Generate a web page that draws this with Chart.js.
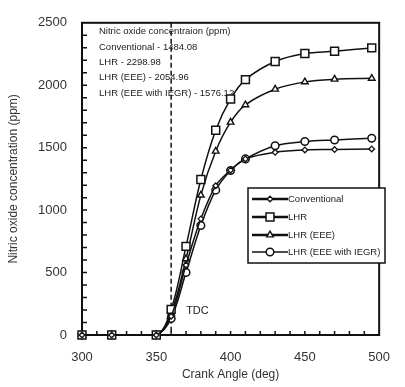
<!DOCTYPE html>
<html>
<head>
<meta charset="utf-8">
<script src="https://cdn.jsdelivr.net/npm/chart.js@4/dist/chart.umd.min.js"></script>
<style>
  html, body { margin: 0; padding: 0; background: #fff; }
  #wrap { width: 405px; height: 387px; position: relative; }
</style>
</head>
<body>
<div id="wrap"><canvas id="noxChart" width="405" height="387"></canvas></div>
<script>
// crank angle (deg) where each point was taken
const crankAngles = [300, 320, 350, 360, 370, 380, 390, 400, 410, 430, 450, 470, 495];

// nitric oxide concentration (ppm)
const conventional = [0, 0, 0, 150, 560, 930, 1195, 1320, 1410, 1463, 1482, 1485, 1490];
const lhr = [0, 0, 0, 205, 710, 1245, 1640, 1890, 2045, 2190, 2254, 2272, 2299];
const lhrEee = [0, 0, 0, 175, 610, 1120, 1472, 1704, 1843, 1968, 2027, 2048, 2055];
const lhrIegr = [0, 0, 0, 132, 500, 877, 1160, 1317, 1410, 1516, 1549, 1562, 1576];

const seriesNames = ["Conventional", "LHR", "LHR (EEE)", "LHR (EEE with IEGR)"];

const noteLines = [
  "Nitric oxide concentraion (ppm)",
  "Conventional - 1484.08",
  "LHR - 2298.98",
  "LHR (EEE) - 2054.96",
  "LHR (EEE with IEGR) - 1576.12"
];

const xTicks = [300, 350, 400, 450, 500];
const yTicks = [0, 500, 1000, 1500, 2000, 2500];
const tdcAngle = 360;

const FONT = "'Liberation Sans', Arial, sans-serif";

function toPoints(values) {
  return values.map((v, i) => ({ x: crankAngles[i], y: v }));
}

function makeSet(label, values, style, radius, lw) {
  return {
    label: label,
    data: toPoints(values),
    borderColor: "#111",
    backgroundColor: "#fff",
    borderWidth: 1.5,
    pointStyle: style,
    pointRadius: radius,
    pointBorderWidth: lw,
    pointBackgroundColor: "#fff",
    pointBorderColor: "#111",
    tension: 0.35,
    clip: false,
    fill: false
  };
}

const datasets = [
  makeSet(seriesNames[0], conventional, "rectRot", 2.8, 1.3),
  makeSet(seriesNames[1], lhr, "rect", 5.6, 1.5),
  makeSet(seriesNames[2], lhrEee, "triangle", 3.8, 1.4),
  makeSet(seriesNames[3], lhrIegr, "circle", 3.8, 1.5)
];

// frame, inner ticks, TDC line, note, and the boxed legend
const decorations = {
  id: "decorations",
  beforeDatasetsDraw(chart) {
    const ctx = chart.ctx;
    const a = chart.chartArea;
    const xs = chart.scales.x;
    const ys = chart.scales.y;
    ctx.save();

    // note text (behind the dashed line)
    ctx.fillStyle = "#222";
    ctx.font = "9.5px " + FONT;
    ctx.textBaseline = "middle";
    ctx.textAlign = "left";
    const noteY = [31, 47, 62, 77, 93];
    noteLines.forEach((t, i) => ctx.fillText(t, a.left + 17, noteY[i]));

    // TDC dashed line
    const tx = xs.getPixelForValue(tdcAngle);
    ctx.strokeStyle = "#111";
    ctx.lineWidth = 1.5;
    ctx.setLineDash([5, 3]);
    ctx.beginPath();
    ctx.moveTo(tx, a.top);
    ctx.lineTo(tx, a.bottom);
    ctx.stroke();
    ctx.setLineDash([]);

    ctx.font = "11px " + FONT;
    ctx.fillStyle = "#222";
    ctx.fillText("TDC", tx + 15, ys.getPixelForValue(195));

    // inner ticks
    ctx.lineWidth = 1.5;
    ctx.strokeStyle = "#111";
    ctx.beginPath();
    for (let v = 100; v < 2500; v += 100) {
      const y = ys.getPixelForValue(v);
      ctx.moveTo(a.left, y);
      ctx.lineTo(a.left + 5, y);
    }
    for (let v = 310; v < 500; v += 10) {
      const x = xs.getPixelForValue(v);
      ctx.moveTo(x, a.bottom);
      ctx.lineTo(x, a.bottom - 4);
    }
    ctx.stroke();

    // frame
    ctx.lineWidth = 2;
    ctx.strokeRect(a.left, a.top, a.right - a.left, a.bottom - a.top);
    ctx.restore();
  },
  afterDatasetsDraw(chart) {
    const ctx = chart.ctx;
    ctx.save();
    ctx.textBaseline = "middle";
    ctx.textAlign = "left";

    // legend box
    const lx = 248, ly = 188, lw = 137, lh = 75;
    ctx.fillStyle = "#fff";
    ctx.fillRect(lx, ly, lw, lh);
    ctx.strokeStyle = "#111";
    ctx.lineWidth = 1.5;
    ctx.strokeRect(lx, ly, lw, lh);
    const rowY = [199, 217, 235, 252];
    chart.data.datasets.forEach((ds, i) => {
      const y = rowY[i];
      ctx.strokeStyle = "#111";
      ctx.lineWidth = i === 3 ? 1.5 : 2.5;
      ctx.beginPath();
      ctx.moveTo(lx + 4, y);
      ctx.lineTo(lx + 40, y);
      ctx.stroke();
      ctx.lineWidth = ds.pointBorderWidth;
      ctx.fillStyle = "#fff";
      Chart.helpers.drawPoint(ctx, {
        pointStyle: ds.pointStyle,
        radius: ds.pointRadius,
        borderWidth: ds.pointBorderWidth,
        rotation: 0
      }, lx + 22, y);
      ctx.fillStyle = "#222";
      ctx.font = "9.5px " + FONT;
      ctx.fillText(ds.label, lx + 40, y);
    });

    ctx.restore();
  }
};

new Chart(document.getElementById("noxChart").getContext("2d"), {
  type: "line",
  data: { datasets: datasets },
  options: {
    responsive: false,
    animation: false,
    layout: { padding: { top: 12, right: 13, left: 0, bottom: 0 } },
    plugins: {
      legend: { display: false },
      tooltip: { enabled: false }
    },
    scales: {
      x: {
        type: "linear",
        min: 300,
        max: 500,
        grid: { display: false, drawTicks: false },
        border: { display: false },
        afterFit: s => { s.height = 52; },
        afterBuildTicks: s => { s.ticks = xTicks.map(v => ({ value: v })); },
        ticks: { color: "#333", font: { family: FONT, size: 13 }, padding: 15, callback: v => String(v) },
        title: {
          display: true,
          text: "Crank Angle (deg)",
          color: "#333",
          font: { family: FONT, size: 12 },
          padding: { top: 0, bottom: 5 }
        }
      },
      y: {
        min: 0,
        max: 2500,
        grid: { display: false, drawTicks: false },
        border: { display: false },
        afterFit: s => { s.width = 82; },
        afterBuildTicks: s => { s.ticks = yTicks.map(v => ({ value: v })); },
        ticks: { color: "#333", font: { family: FONT, size: 13 }, padding: 15, callback: v => String(v) },
        title: {
          display: true,
          text: "Nitric oxide concentration (ppm)",
          color: "#333",
          font: { family: FONT, size: 12 },
          padding: { top: 6, bottom: 0 }
        }
      }
    }
  },
  plugins: [decorations]
});
</script>
</body>
</html>
